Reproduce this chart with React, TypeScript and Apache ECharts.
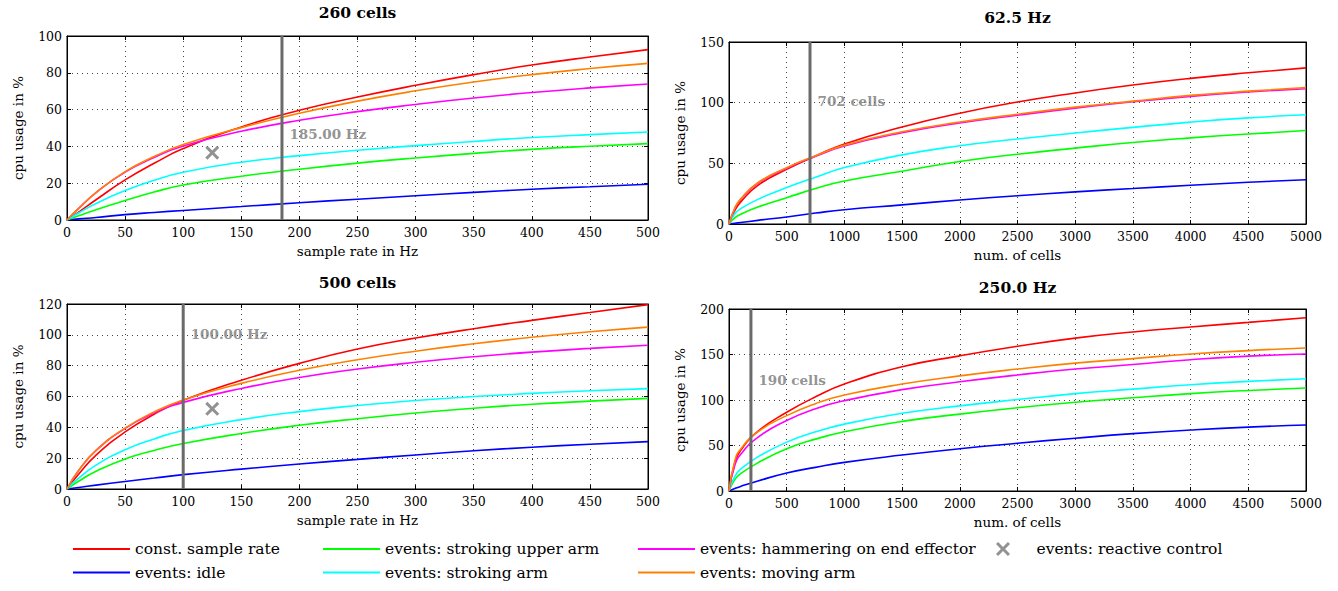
import React, { useEffect, useRef } from "react";
import * as echarts from "echarts";

// ---------- data ----------
const sampleRates = [0, 10, 25, 50, 75, 100, 150, 200, 250, 300, 350, 400, 450, 500];
const cellCounts = [0, 50, 100, 250, 500, 750, 1000, 1500, 2000, 2500, 3000, 3500, 4000, 4500, 5000];

const seriesNames = [
  "const. sample rate",
  "events: idle",
  "events: stroking upper arm",
  "events: stroking arm",
  "events: hammering on end effector",
  "events: moving arm",
];
const reactiveName = "events: reactive control";
const seriesColors = ["#ff0000", "#0000ff", "#00ff00", "#00ffff", "#ff00ff", "#ff8000"];

// panel 1: 260 cells (x = sample rate)
const c260_const = [0, 4.3, 11, 21.8, 30.8, 38.8, 50.6, 59.6, 66.8, 73.2, 79, 84.2, 88.6, 92.6];
const c260_idle = [0, 0.6, 1.4, 2.9, 4.1, 5.2, 7.3, 9.4, 11.3, 13.2, 15, 16.7, 18.1, 19.4];
const c260_upper = [0, 2.3, 5.6, 10.6, 15.2, 19, 23.8, 27.6, 30.9, 33.7, 36.2, 38.4, 40.1, 41.5];
const c260_arm = [0, 3.8, 9, 16, 21.6, 26, 31.4, 35, 37.9, 40.4, 42.7, 44.8, 46.4, 47.8];
const c260_hammer = [0, 6.3, 14.9, 26, 34, 40.2, 48.2, 54.2, 58.9, 62.8, 66.3, 69.3, 71.8, 73.9];
const c260_moving = [0, 6.3, 14.9, 26.3, 34.5, 41, 50.2, 58, 64.6, 70.2, 75, 79, 82.3, 85.1];
const c260_reactive = [[125, 36.6]];

// panel 2: 62.5 Hz (x = num. of cells)
const hz62_const = [0, 11, 18, 31.8, 45, 56, 66, 80, 91.3, 100.5, 108, 114.5, 120, 124.6, 128.7];
const hz62_idle = [0, 0.6, 1.2, 3, 5.8, 9, 11.8, 15.8, 19.8, 23.3, 26.5, 29.2, 31.9, 34.4, 36.5];
const hz62_upper = [0, 5, 8, 14, 21.7, 29.2, 35.5, 43.5, 51.5, 57.5, 62.5, 67.2, 71, 74.2, 77];
const hz62_arm = [0, 8.5, 12.5, 20.3, 30, 38.5, 46.5, 57, 64.5, 70, 75, 79.6, 84, 87.5, 90];
const hz62_hammer = [0, 12.8, 20.2, 33.6, 46, 55.8, 64.3, 75.2, 83.2, 89.6, 95.5, 100.7, 105.2, 108.8, 111.5];
const hz62_moving = [0, 13, 20.5, 34, 46.4, 56.2, 65, 76, 84, 90.5, 96.3, 101.3, 106, 109.5, 112.4];

// panel 3: 500 cells (x = sample rate)
const c500_const = [0, 9.5, 22, 37, 48.5, 57.5, 70.5, 81.5, 90.8, 97.9, 104, 109.4, 114.5, 119.6];
const c500_idle = [0, 1, 2.5, 4.9, 7.1, 9.3, 12.9, 16.2, 19.2, 22.1, 24.8, 27.1, 29, 30.7];
const c500_upper = [0, 5, 11.5, 19.5, 25, 29.5, 36, 41.3, 45.6, 49.3, 52.4, 55, 57, 58.8];
const c500_arm = [0, 7, 15.5, 25.5, 32.5, 38, 45, 50.2, 54.2, 57.4, 60, 62, 63.7, 65.1];
const c500_hammer = [0, 12, 25, 39.3, 49.3, 56.2, 65.2, 72.3, 77.8, 82.2, 85.8, 88.8, 91.2, 93.2];
const c500_moving = [0, 12, 25, 39.5, 50, 57.8, 68.5, 77, 83.8, 89.4, 94.2, 98.4, 102, 105];
const c500_reactive = [[125, 52]];

// panel 4: 250.0 Hz (x = num. of cells)
const hz250_const = [0, 31, 44.5, 65.5, 86.5, 103.5, 117.5, 136.5, 148.5, 159, 168, 174.8, 180.3, 185.3, 190.3];
const hz250_idle = [0, 2.7, 5, 11, 19.8, 26, 31.5, 39.5, 46.5, 52.5, 58, 63, 67, 70.2, 72.5];
const hz250_upper = [0, 12.5, 19, 31, 46.5, 57, 65.2, 76.5, 84.5, 91.5, 97.5, 102.5, 107, 110.5, 113.2];
const hz250_arm = [0, 16, 24, 37.5, 53.7, 65, 73.5, 85.4, 93.5, 100.5, 107, 112, 116.8, 120.5, 123.4];
const hz250_hammer = [0, 28, 40, 59, 77.5, 90.5, 99.3, 111.4, 120, 127.5, 134, 139, 144.3, 148.2, 150.5];
const hz250_moving = [0, 33, 46, 65, 82.8, 96, 105.5, 117.5, 126.5, 134, 140.5, 145.5, 150.5, 154.3, 157.2];

const panelTitles = ["260 cells", "62.5 Hz", "500 cells", "250.0 Hz"];
const xNames = ["sample rate in Hz", "num. of cells", "sample rate in Hz", "num. of cells"];
const yName = "cpu usage in %";
const xMaxes = [500, 5000, 500, 5000];
const xIntervals = [50, 500, 50, 500];
const yMaxes = [100, 150, 120, 200];
const yIntervals = [20, 50, 20, 50];
const markerPositions = [185, 702, 100, 190];
const markerLabels = ["185.00 Hz", "702 cells", "100.00 Hz", "190 cells"];
const markerLabelLevels = [47, 101, 100.5, 121.5];

// ---------- layout ----------
const grids = [
  { left: 67, top: 36, width: 581, height: 184 },
  { left: 729, top: 42, width: 577, height: 182 },
  { left: 67, top: 304, width: 581, height: 185 },
  { left: 729, top: 309, width: 577, height: 182 },
];
const titleY = [12, 17, 282, 287];

const FONT = "'DejaVu Serif', serif";
const xPath =
  "path://M1.5,0L5,3.5L8.5,0L10,1.5L6.5,5L10,8.5L8.5,10L5,6.5L1.5,10L0,8.5L3.5,5L0,1.5Z";

function buildOption() {
  const panelX = [sampleRates, cellCounts, sampleRates, cellCounts];
  const panelData = [
    [c260_const, c260_idle, c260_upper, c260_arm, c260_hammer, c260_moving],
    [hz62_const, hz62_idle, hz62_upper, hz62_arm, hz62_hammer, hz62_moving],
    [c500_const, c500_idle, c500_upper, c500_arm, c500_hammer, c500_moving],
    [hz250_const, hz250_idle, hz250_upper, hz250_arm, hz250_hammer, hz250_moving],
  ];
  const reactive = [c260_reactive, null, c500_reactive, null];

  const xAxis: any[] = [];
  const yAxis: any[] = [];
  const series: any[] = [];
  const graphic: any[] = [];

  for (let p = 0; p < 4; p++) {
    xAxis.push({
      type: "value",
      gridIndex: p,
      min: 0,
      max: xMaxes[p],
      interval: xIntervals[p],
      position: "bottom",
      name: xNames[p],
      nameLocation: "middle",
      nameGap: 24,
      nameTextStyle: { fontFamily: FONT, fontSize: 13.5, color: "#000" },
      axisLine: { show: true, onZero: false, lineStyle: { color: "#000", width: 1 } },
      axisTick: { show: true, inside: true, length: 4, lineStyle: { color: "#000" } },
      axisLabel: {
        fontFamily: FONT,
        fontSize: 12.5,
        color: "#000",
        margin: 6,
        formatter: (v: number) => String(v),
      },
      splitLine: { show: true, lineStyle: { color: "#444", width: 1, type: [1, 4] } },
    });
    yAxis.push({
      type: "value",
      gridIndex: p,
      min: 0,
      max: yMaxes[p],
      interval: yIntervals[p],
      position: "left",
      name: yName,
      nameLocation: "middle",
      nameRotate: 90,
      nameGap: 42,
      nameTextStyle: { fontFamily: FONT, fontSize: 13.5, color: "#000" },
      axisLine: { show: true, onZero: false, lineStyle: { color: "#000", width: 1 } },
      axisTick: { show: true, inside: true, length: 4, lineStyle: { color: "#000" } },
      axisLabel: {
        fontFamily: FONT,
        fontSize: 12.5,
        color: "#000",
        margin: 5,
        formatter: (v: number) => String(v),
      },
      splitLine: { show: true, lineStyle: { color: "#444", width: 1, type: [1, 4] } },
    });
  }
  for (let p = 0; p < 4; p++) {
    xAxis.push({
      type: "value",
      gridIndex: p,
      min: 0,
      max: xMaxes[p],
      interval: xIntervals[p],
      position: "top",
      axisLine: { show: true, onZero: false, lineStyle: { color: "#000", width: 1 } },
      axisTick: { show: true, inside: true, length: 4, lineStyle: { color: "#000" } },
      axisLabel: { show: false },
      splitLine: { show: false },
    });
    yAxis.push({
      type: "value",
      gridIndex: p,
      min: 0,
      max: yMaxes[p],
      interval: yIntervals[p],
      position: "right",
      axisLine: { show: true, onZero: false, lineStyle: { color: "#000", width: 1 } },
      axisTick: { show: true, inside: true, length: 4, lineStyle: { color: "#000" } },
      axisLabel: { show: false },
      splitLine: { show: false },
    });
  }

  for (let p = 0; p < 4; p++) {
    const xs = panelX[p];
    panelData[p].forEach((vals, si) => {
      series.push({
        type: "line",
        name: seriesNames[si],
        xAxisIndex: p,
        yAxisIndex: p,
        data: xs.map((x, i) => [x, vals[i]]),
        smooth: 0.5,
        showSymbol: false,
        symbol: "none",
        silent: true,
        color: seriesColors[si],
        lineStyle: { color: seriesColors[si], width: 1.6 },
        itemStyle: { color: seriesColors[si] },
        z: 3 + si,
      });
    });
    // vertical marker line
    series.push({
      type: "line",
      name: "marker" + p,
      xAxisIndex: p,
      yAxisIndex: p,
      data: [
        [markerPositions[p], 0],
        [markerPositions[p], yMaxes[p]],
      ],
      symbol: "none",
      silent: true,
      lineStyle: { color: "#6a6a6a", width: 3 },
      z: 10,
    });
    series.push({
      type: "scatter",
      name: "markerLabel" + p,
      xAxisIndex: p,
      yAxisIndex: p,
      data: [[markerPositions[p], markerLabelLevels[p]]],
      symbolSize: 1,
      silent: true,
      itemStyle: { color: "rgba(0,0,0,0)" },
      label: {
        show: true,
        position: "right",
        distance: 7,
        formatter: markerLabels[p],
        fontFamily: FONT,
        fontWeight: "bold",
        fontSize: 13.5,
        color: "#777",
      },
      z: 11,
    });
    if (reactive[p]) {
      series.push({
        type: "scatter",
        name: reactiveName,
        xAxisIndex: p,
        yAxisIndex: p,
        data: reactive[p],
        symbol: xPath,
        symbolSize: 14,
        silent: true,
        itemStyle: { color: "#777" },
        z: 12,
      });
    }
    graphic.push({
      type: "text",
      x: grids[p].left + grids[p].width / 2,
      y: titleY[p],
      style: {
        text: panelTitles[p],
        textAlign: "center",
        textVerticalAlign: "middle",
        font: "bold 15.5px " + FONT,
        fill: "#000",
      },
    });
  }

  const legendBase = {
    orient: "vertical",
    top: 541,
    padding: 0,
    height: 50,
    itemWidth: 57,
    itemHeight: 2,
    itemGap: 7.5,
    icon: "rect",
    selectedMode: false,
    textStyle: { fontFamily: FONT, fontSize: 15.5, color: "#000" },
  };

  return {
    animation: false,
    backgroundColor: "#fff",
    textStyle: { fontFamily: FONT },
    grid: grids.map((g) => ({
      ...g,
      show: true,
      borderColor: "#000",
      borderWidth: 1,
      backgroundColor: "rgba(0,0,0,0)",
    })),
    xAxis,
    yAxis,
    series,
    graphic,
    legend: [
      { ...legendBase, left: 73, data: [seriesNames[0], seriesNames[1]] },
      { ...legendBase, left: 323, data: [seriesNames[2], seriesNames[3]] },
      { ...legendBase, left: 638, data: [seriesNames[4], seriesNames[5]] },
      {
        ...legendBase,
        left: 996,
        itemHeight: 14,
        data: [{ name: reactiveName, icon: xPath, itemStyle: { color: "#777" } }],
      },
    ],
  };
}

export default function App() {
  const ref = useRef<HTMLDivElement>(null);
  useEffect(() => {
    if (!ref.current) return;
    const chart = echarts.init(ref.current, null, { renderer: "svg" });
    chart.setOption(buildOption() as any);
    return () => chart.dispose();
  }, []);
  return (
    <div
      ref={ref}
      style={{ position: "fixed", left: 0, top: 0, width: 1338, height: 591, background: "#fff" }}
    />
  );
}
